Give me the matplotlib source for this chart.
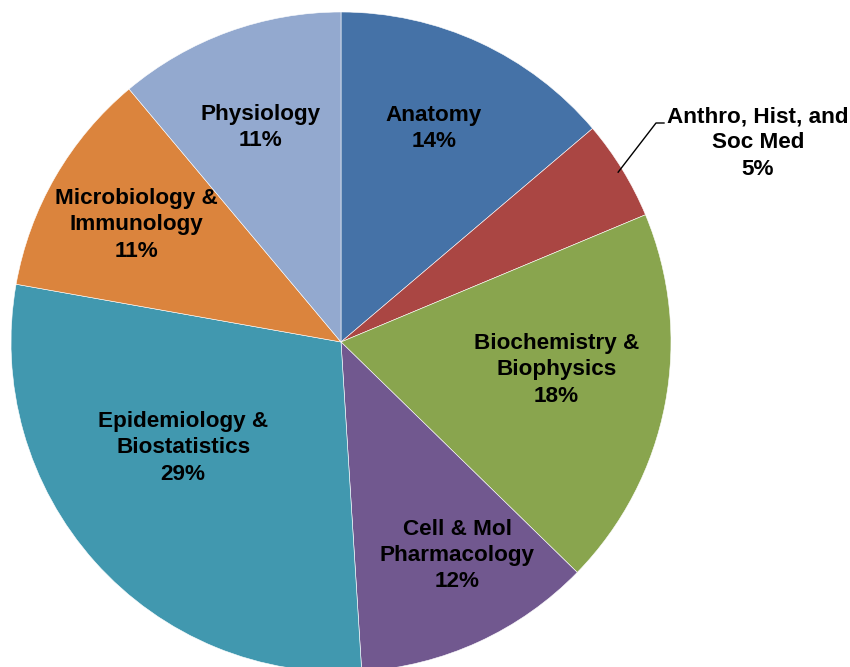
import matplotlib.pyplot as plt
import numpy as np

plt.rcParams['font.family'] = ['Liberation Sans', 'DejaVu Sans']

names = ["Anatomy", "Anthro, Hist, and\nSoc Med", "Biochemistry &\nBiophysics",
         "Cell & Mol\nPharmacology", "Epidemiology &\nBiostatistics",
         "Microbiology &\nImmunology", "Physiology"]
shares = [13.8, 4.9, 18.6, 11.7, 28.8, 11.1, 11.1]
pcts = [14, 5, 18, 12, 29, 11, 11]
colors = ["#4572A7", "#AA4643", "#89A54E", "#71588F", "#4198AF", "#DB843D", "#93A9CF"]
# label placement: fraction of radius, and angle nudge (deg) from slice middle
lab_r = [0.706, 1.40, 0.658, 0.736, 0.576, 0.715, 0.694]
lab_dang = [1.3, 0, 3.4, 4.0, -7.9, 0.3, 0.7]

fig = plt.figure(figsize=(8.5, 6.67), dpi=100)
ax = fig.add_axes([0, 0, 1, 1])

cx, cy, R = 341, 667 - 342, 330
wedges, _ = ax.pie(shares, colors=colors, startangle=90, counterclock=False,
                   center=(cx, cy), radius=R,
                   wedgeprops=dict(linewidth=0.4, edgecolor="white"))

fs = 16.2
for i, w in enumerate(wedges):
    mid = np.deg2rad((w.theta1 + w.theta2) / 2 + lab_dang[i])
    txt = names[i] + "\n" + str(pcts[i]) + "%"
    if i == 1:
        # outside label with leader line
        ex, ey = cx + R * 0.985 * np.cos(mid), cy + R * 0.985 * np.sin(mid)
        kx, ky = 656, 667 - 123
        ax.plot([ex, kx, kx + 8], [ey, ky, ky], color="black", lw=1.0)
        ax.text(758, 667 - 143, txt, ha="center", va="center", fontsize=fs,
                fontweight="bold", linespacing=1.32)
        continue
    tx, ty = cx + R * lab_r[i] * np.cos(mid), cy + R * lab_r[i] * np.sin(mid)
    ax.text(tx, ty, txt, ha="center", va="center", fontsize=fs,
            fontweight="bold", linespacing=1.32)

ax.set_xlim(0, 850)
ax.set_ylim(0, 667)
ax.set_aspect("auto")
ax.axis("off")

fig.savefig("out.png", dpi=100)
